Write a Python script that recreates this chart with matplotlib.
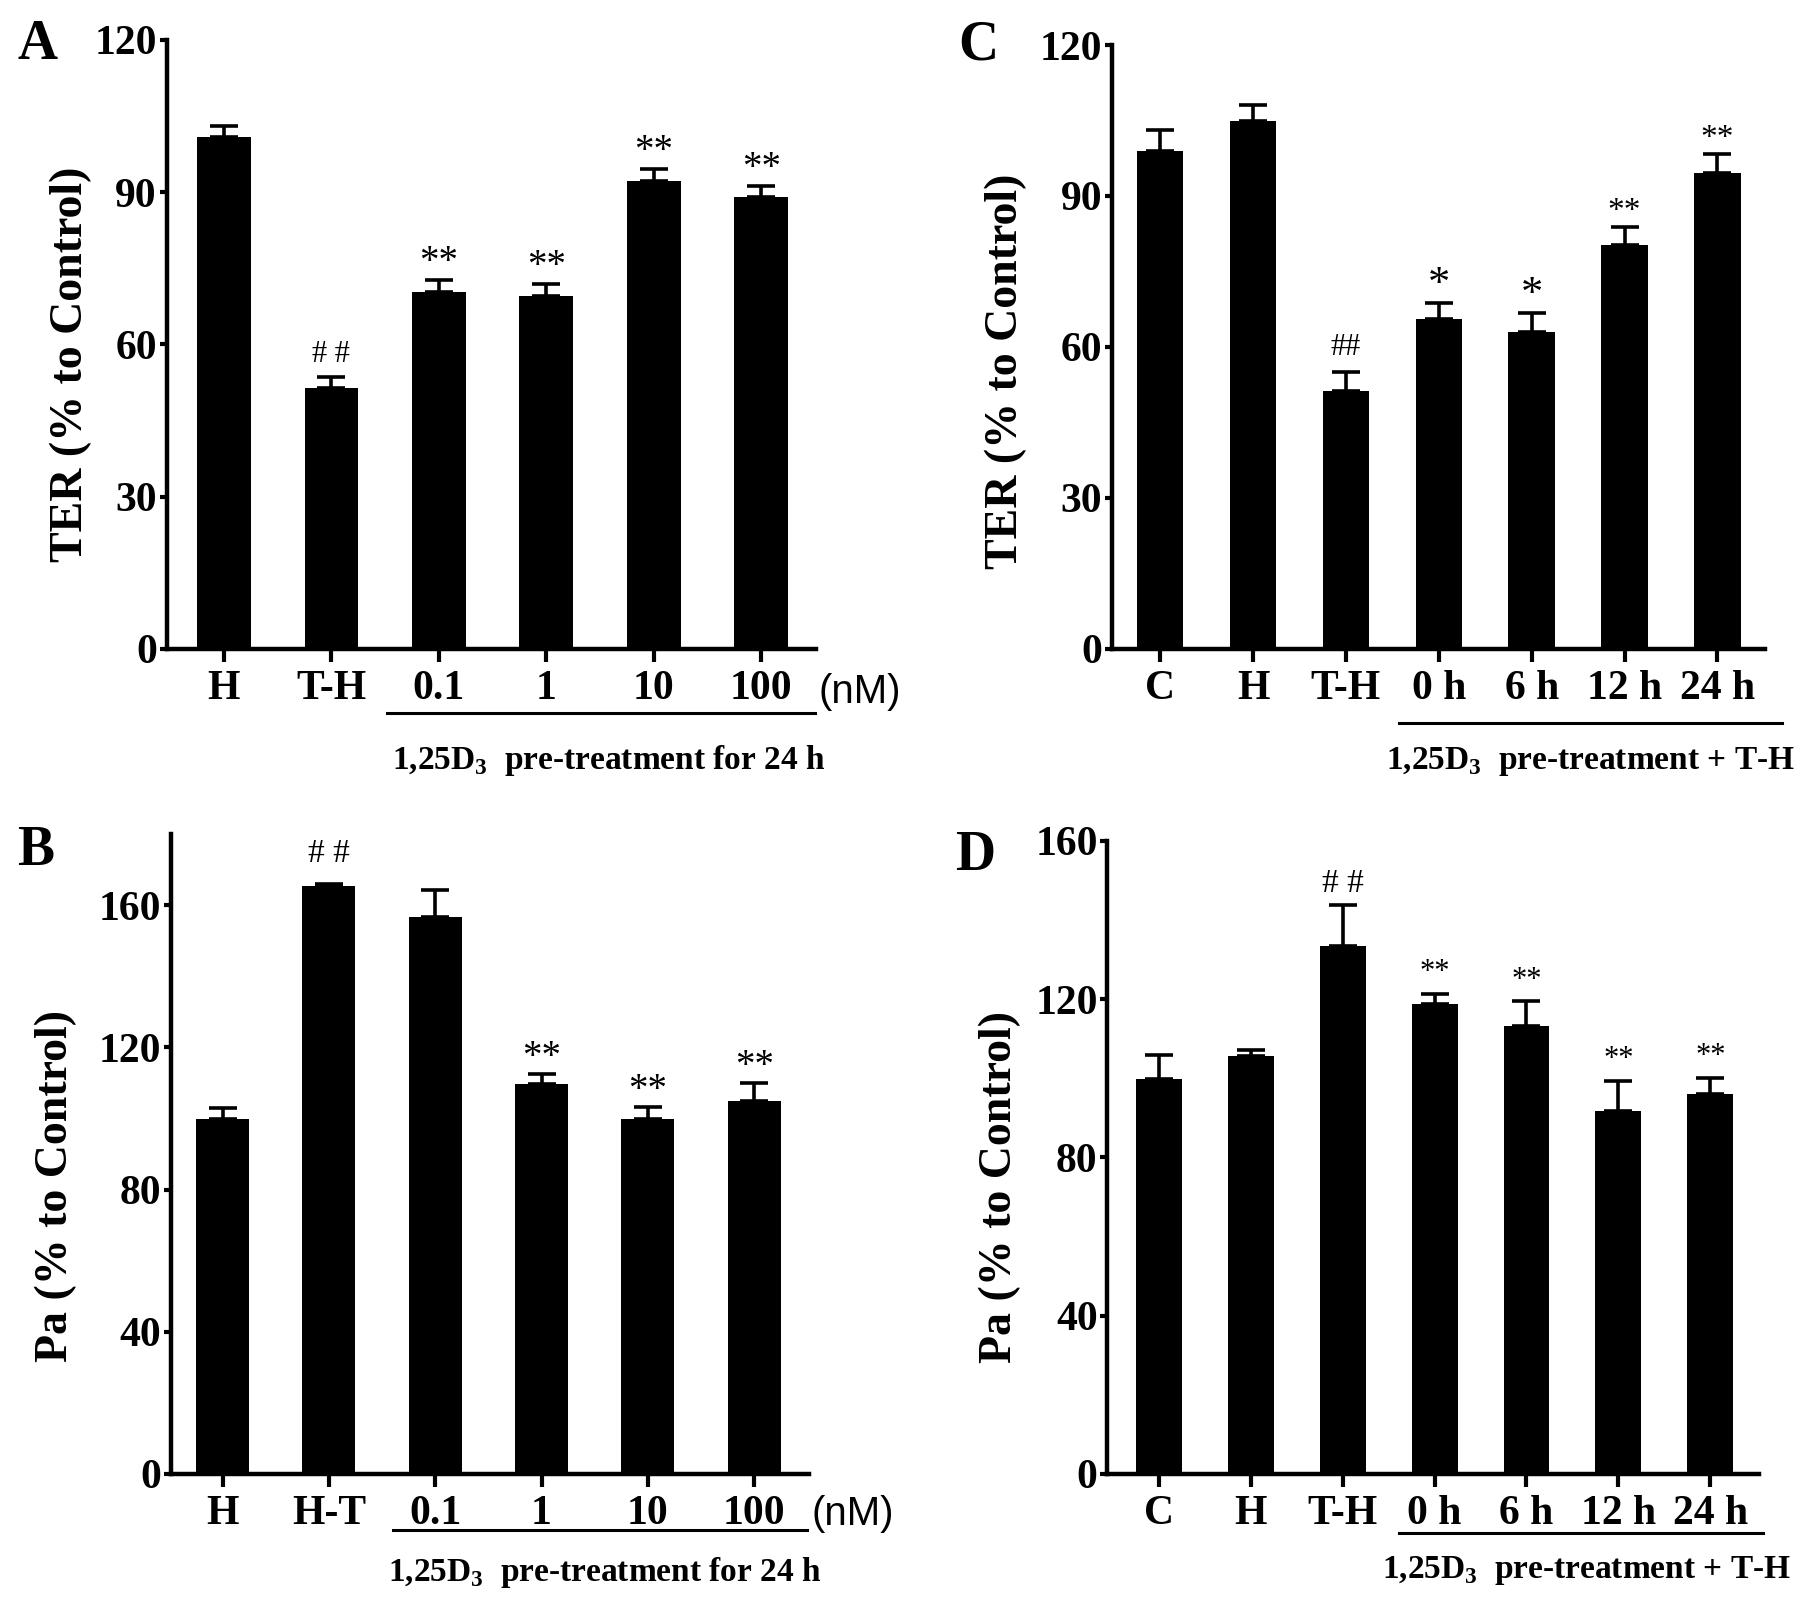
"""Four-panel bar chart: TER and Pa after 1,25D3 pre-treatment (panels A-D)."""

import matplotlib

matplotlib.use("Agg")
import matplotlib.pyplot as plt
import numpy as np

plt.rcParams["font.family"] = ["Liberation Serif", "DejaVu Serif"]
plt.rcParams["font.weight"] = "bold"
plt.rcParams["mathtext.fontset"] = "custom"
plt.rcParams["mathtext.rm"] = "Liberation Serif"

# ---- data ----
A_LABELS = ["H", "T-H", "0.1", "1", "10", "100"]
A_VALUES = [100.8, 51.4, 70.3, 69.6, 92.3, 89.0]
A_ERRORS = [2.3, 2.2, 2.3, 2.3, 2.3, 2.2]
A_MARKS = ["", "# #", "**", "**", "**", "**"]

B_LABELS = ["H", "H-T", "0.1", "1", "10", "100"]
B_VALUES = [99.9, 165.3, 156.6, 109.7, 99.9, 104.8]
B_ERRORS = [3.0, 0.7, 7.7, 2.7, 3.4, 5.3]
B_MARKS = ["", "# #", "", "**", "**", "**"]

C_LABELS = ["C", "H", "T-H", "0 h", "6 h", "12 h", "24 h"]
C_VALUES = [98.9, 104.8, 51.3, 65.6, 63.0, 80.3, 94.6]
C_ERRORS = [4.3, 3.3, 3.8, 3.2, 3.8, 3.5, 3.8]
C_MARKS = ["", "", "##", "*", "*", "**", "**"]

D_LABELS = ["C", "H", "T-H", "0 h", "6 h", "12 h", "24 h"]
D_VALUES = [99.7, 105.6, 133.3, 118.8, 113.2, 91.7, 96.0]
D_ERRORS = [6.1, 1.5, 10.5, 2.6, 6.2, 7.7, 4.0]
D_MARKS = ["", "", "# #", "**", "**", "**", "**"]

TER_TICKS = [0, 30, 60, 90, 120]
PA_B_TICKS = [0, 40, 80, 120, 160]
PA_D_TICKS = [0, 40, 80, 120, 160]

NOTE_24H = "1,25D$_3$  pre-treatment for 24 h"
NOTE_TH = "1,25D$_3$  pre-treatment + T-H"

W, H = 1795, 1609


def draw_panel(fig, cfg):
    ax = fig.add_axes(cfg["rect"])
    x = np.arange(len(cfg["labels"]))
    vals = np.array(cfg["values"])
    errs = np.array(cfg["errors"])

    ax.bar(x, vals, width=0.5, color="black", zorder=2)
    ax.errorbar(x, vals, yerr=[np.zeros_like(errs), errs], fmt="none",
                ecolor="black", elinewidth=2.6, capsize=10, capthick=2.6, zorder=1)

    for xi, top, mark in zip(x, vals + errs, cfg["marks"]):
        if not mark:
            continue
        if "#" in mark:
            size, pad = cfg["hash_size"], cfg["hash_pad"]
        else:
            size, pad = cfg["star_size"], cfg["mark_pad"]
            if mark == "*":
                size = cfg.get("single_size", size)
        ax.annotate(mark, (xi, top), xytext=(0, pad), textcoords="offset points",
                    ha="center", va="baseline", fontsize=size, fontweight="normal")

    ax.set_xlim(cfg["xlim"])
    ax.set_ylim(0, cfg["ymax"])
    ax.set_yticks(cfg["yticks"])
    ax.set_xticks(x)
    ax.set_xticklabels(cfg["labels"])
    for side in ("top", "right"):
        ax.spines[side].set_visible(False)
    for side in ("left", "bottom"):
        ax.spines[side].set_linewidth(3.2)
    ax.tick_params(axis="x", length=9, width=3, pad=6, labelsize=30)
    ax.tick_params(axis="y", length=5, width=3, pad=2, labelsize=30)

    ax.set_ylabel(cfg["ylabel"], fontsize=33, fontweight="bold")
    ax.yaxis.set_label_coords(*cfg["ylabel_xy"])

    trans = ax.get_xaxis_transform()
    x0, x1 = cfg["underline"]
    ax.plot([x0, x1], [cfg["underline_y"]] * 2, color="black", lw=2.2,
            transform=trans, clip_on=False)
    ax.text(cfg["note_x"], cfg["note_y"], cfg["note"], transform=trans,
            ha="center", va="baseline", fontsize=24)
    if cfg.get("unit_y") is not None:
        ax.text(cfg["xlim"][1] + 0.02, cfg["unit_y"], "(nM)", transform=trans,
                ha="left", va="top", fontsize=29, fontweight="normal",
                family="Liberation Sans")

    fig.text(cfg["tag_xy"][0], cfg["tag_xy"][1], cfg["tag"], fontsize=40,
             fontweight="bold", ha="left", va="baseline")
    return ax


def rect(left, right, top, bottom):
    return [left / W, 1 - bottom / H, (right - left) / W, (bottom - top) / H]


fig = plt.figure(figsize=(W / 100, H / 100), dpi=100)

panels = [
    dict(tag="A", tag_xy=(17 / W, 1 - 59 / H), rect=rect(166.5, 816, 40, 648.7),
         labels=A_LABELS, values=A_VALUES, errors=A_ERRORS, marks=A_MARKS,
         xlim=(-0.535, 5.51), ymax=120, yticks=TER_TICKS,
         ylabel="TER (% to Control)", ylabel_xy=(-0.115, 0.468),
         underline=(1.52, 5.5), underline_y=-0.106, note=NOTE_24H,
         note_x=3.58, note_y=-0.198, unit_y=-0.040,
         star_size=28, hash_size=22, mark_pad=6, hash_pad=11),
    dict(tag="C", tag_xy=(958 / W, 1 - 59 / H), rect=rect(1112, 1764.7, 45, 648.7),
         labels=C_LABELS, values=C_VALUES, errors=C_ERRORS, marks=C_MARKS,
         xlim=(-0.52, 6.51), ymax=120, yticks=TER_TICKS,
         ylabel="TER (% to Control)", ylabel_xy=(-0.130, 0.459),
         underline=(2.57, 6.70), underline_y=-0.123, note=NOTE_TH,
         note_x=4.63, note_y=-0.199, unit_y=None,
         star_size=24, hash_size=22, single_size=32, mark_pad=5, hash_pad=12),
    dict(tag="B", tag_xy=(17 / W, 1 - 865 / H), rect=rect(170.5, 809.4, 834, 1474),
         labels=B_LABELS, values=B_VALUES, errors=B_ERRORS, marks=B_MARKS,
         xlim=(-0.49, 5.52), ymax=180, yticks=PA_B_TICKS,
         ylabel="Pa (% to Control)", ylabel_xy=(-0.146, 0.45),
         underline=(1.60, 5.5), underline_y=-0.087, note=NOTE_24H,
         note_x=3.59, note_y=-0.167, unit_y=-0.033,
         star_size=28, hash_size=24, mark_pad=5, hash_pad=16),
    dict(tag="D", tag_xy=(955 / W, 1 - 870 / H), rect=rect(1107.4, 1759, 840.8, 1474),
         labels=D_LABELS, values=D_VALUES, errors=D_ERRORS, marks=D_MARKS,
         xlim=(-0.56, 6.53), ymax=160, yticks=PA_D_TICKS,
         ylabel="Pa (% to Control)", ylabel_xy=(-0.133, 0.453),
         underline=(2.61, 6.57), underline_y=-0.093, note=NOTE_TH,
         note_x=4.65, note_y=-0.164, unit_y=None,
         star_size=22, hash_size=24, mark_pad=10, hash_pad=9),
]

for cfg in panels:
    draw_panel(fig, cfg)

fig.savefig("out.png", dpi=100)
